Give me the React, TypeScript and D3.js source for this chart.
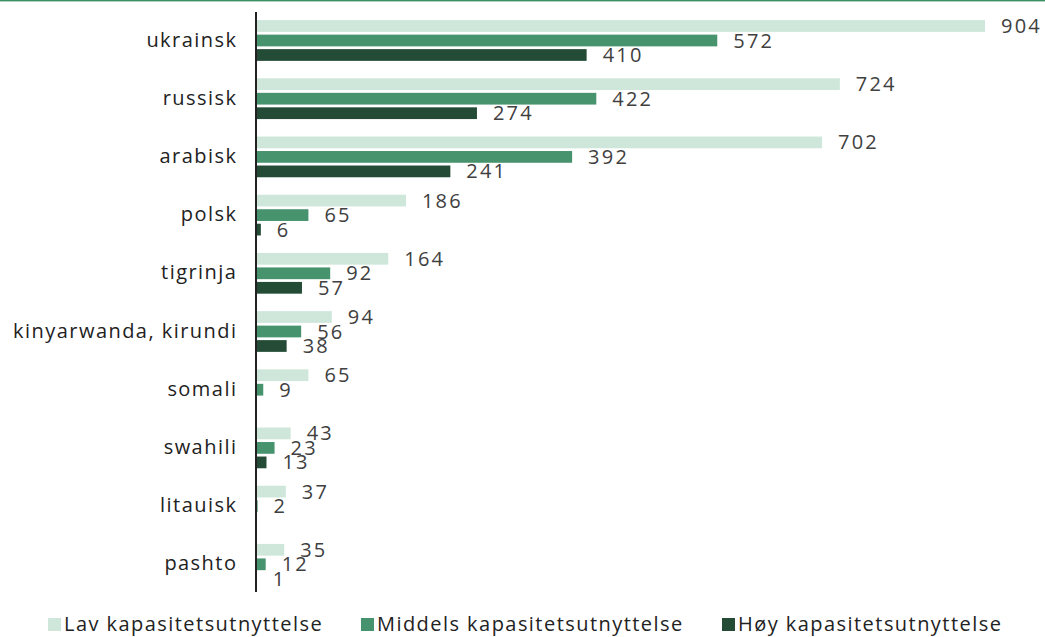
import React from "react";
import * as d3 from "d3";

const categories = [
  "ukrainsk",
  "russisk",
  "arabisk",
  "polsk",
  "tigrinja",
  "kinyarwanda, kirundi",
  "somali",
  "swahili",
  "litauisk",
  "pashto",
];
const seriesNames = [
  "Lav kapasitetsutnyttelse",
  "Middels kapasitetsutnyttelse",
  "Høy kapasitetsutnyttelse",
];
const lav = [904, 724, 702, 186, 164, 94, 65, 43, 37, 35];
const middels = [572, 422, 392, 65, 92, 56, 9, 23, 2, 12];
const hoy = [410, 274, 241, 6, 57, 38, 0, 13, 0, 1];
const colors = ["#cfe7db", "#47936e", "#244b36"];

const W = 1045;
const H = 637;
const FONT = "'Open Sans', sans-serif";

export default function App() {
  const values = [lav, middels, hoy];
  const x = d3.scaleLinear().domain([0, 904]).range([256, 985]);
  const y0 = d3
    .scaleBand<string>()
    .domain(categories)
    .range([11.4, 593.4])
    .paddingInner(0.3)
    .paddingOuter(0.15);
  const y1 = d3
    .scaleBand<string>()
    .domain(seriesNames)
    .range([0, y0.bandwidth()])
    .paddingInner(0.19);

  const legendX = [48, 361, 722];

  return (
    <svg
      width={W}
      height={H}
      style={{ position: "fixed", left: 0, top: 0, background: "#fff" }}
      fontFamily={FONT}
    >
      <rect x={0} y={0} width={W} height={1.4} fill="#3d8f64" />
      {categories.map((c, i) => (
        <g key={c}>
          <text
            x={237.4}
            y={(y0(c) as number) + y0.bandwidth() / 2 - 1.5}
            textAnchor="end"
            dominantBaseline="central"
            fontSize={20}
            letterSpacing={1.45}
            fill="#222"
          >
            {c}
          </text>
          {seriesNames.map((s, j) => {
            const v = values[j][i];
            if (v === 0) return null;
            const yy = (y0(c) as number) + (y1(s) as number);
            return (
              <g key={s}>
                <rect
                  x={x(0)}
                  y={yy}
                  width={x(v) - x(0)}
                  height={y1.bandwidth()}
                  fill={colors[j]}
                />
                <text
                  x={x(v) + 16}
                  y={yy + y1.bandwidth() / 2 - 0.5}
                  dominantBaseline="central"
                  fontSize={20}
                  letterSpacing={2.2}
                  fill="#404040"
                >
                  {v}
                </text>
              </g>
            );
          })}
        </g>
      ))}
      <line x1={256} x2={256} y1={12} y2={592} stroke="#222" strokeWidth={2} />
      {seriesNames.map((s, j) => (
        <g key={s}>
          <rect x={legendX[j]} y={618} width={13} height={13} fill={colors[j]} />
          <text
            x={legendX[j] + 16}
            y={623.5}
            dominantBaseline="central"
            fontSize={20}
            letterSpacing={1.45}
            fill="#222"
          >
            {s}
          </text>
        </g>
      ))}
    </svg>
  );
}
